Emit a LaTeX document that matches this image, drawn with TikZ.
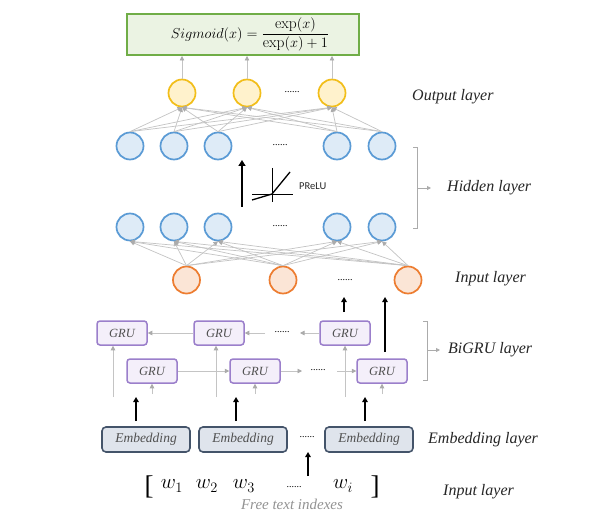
\documentclass[tikz,border=0pt]{standalone}
\usepackage{fontspec}
\usepackage{amsmath}
\newfontfamily\lsr{Liberation Serif}
\newfontfamily\carl{Carlito}
\usetikzlibrary{arrows.meta}
\definecolor{linegray}{HTML}{C4C4C4}
\definecolor{arrgray}{HTML}{ABABAB}
\definecolor{yelB}{HTML}{F2BE1A}
\definecolor{yelF}{HTML}{FFF2CC}
\definecolor{bluB}{HTML}{5B9BD5}
\definecolor{bluF}{HTML}{DEEBF7}
\definecolor{orB}{HTML}{ED7D31}
\definecolor{orF}{HTML}{FBE5D6}
\definecolor{gruB}{HTML}{9B7FCB}
\definecolor{gruF}{HTML}{F4EFFA}
\definecolor{embB}{HTML}{44546A}
\definecolor{embF}{HTML}{DFE4EC}
\definecolor{sigB}{HTML}{70AD47}
\definecolor{sigF}{HTML}{EBF3E3}
\definecolor{labtxt}{HTML}{262626}
\definecolor{boxtxt}{HTML}{505050}
\tikzset{
  neuron/.style={circle, minimum size=27pt, inner sep=0pt, line width=1.7pt},
  outn/.style={neuron, draw=yelB, fill=yelF},
  hidn/.style={neuron, draw=bluB, fill=bluF},
  inpn/.style={neuron, draw=orB, fill=orF},
  grubox/.style={draw=gruB, fill=gruF, line width=1.5pt, rounded corners=3pt,
    minimum width=50pt, minimum height=24pt, inner sep=0pt,
    font=\lsr\itshape\fontsize{12.5}{14}\selectfont, text=boxtxt},
  embbox/.style={draw=embB, fill=embF, line width=1.6pt, rounded corners=4pt,
    minimum width=88pt, minimum height=25pt, inner sep=0pt,
    font=\lsr\itshape\fontsize{13.5}{15}\selectfont, text=boxtxt},
  garrow/.style={draw=linegray, line width=0.7pt, -{Triangle[length=4.5pt,width=4.5pt,color=arrgray]}},
  karrow/.style={draw=black, line width=1.6pt, -{Triangle[length=5pt,width=5.5pt]}},
  dots/.style={inner sep=0pt, font=\lsr\fontsize{10}{12}\selectfont},
  layerlab/.style={anchor=west, inner sep=0pt, font=\lsr\itshape\fontsize{16}{19}\selectfont, text=labtxt},
  brk/.style={draw=arrgray, line width=0.8pt},
  brkarrow/.style={draw=arrgray, line width=0.8pt, -{Triangle[length=4pt,width=4pt]}},
  wordf/.style={inner sep=0pt, font=\fontsize{20}{22}\selectfont},
  brackf/.style={inner sep=0pt, font=\lsr\fontsize{27}{29}\selectfont},
}
\begin{document}
\begin{tikzpicture}[x=1pt,y=-1pt]
\useasboundingbox[fill=white] (0,0) rectangle (602,513);

% Sigmoid box
\node[draw=sigB, fill=sigF, line width=2pt, minimum width=232pt, minimum height=41pt, inner sep=0pt] (sig) at (243,34.5)
  {\hspace*{14pt}\fontsize{15.5}{18}\selectfont $Sigmoid(x)=\dfrac{\exp(x)}{\exp(x)+1}$};

% Output layer
\node[outn] (o1) at (182,93) {};
\node[outn] (o2) at (247,93) {};
\node[outn] (o3) at (332,93) {};
\node[dots] (od) at (292,92) {......};
\foreach \o in {o1,o2,o3} \draw[garrow] (\o.north) -- (\o.north |- sig.south);

% Hidden layers
\foreach \x/\n in {130/1,174/2,218/3,337/4,382/5} {
  \node[hidn] (h\n) at (\x,146) {};
  \node[hidn] (k\n) at (\x,227) {};
}
\node[dots] (hd1) at (280,145) {......};
\node[dots] (hd2) at (280,226) {......};

% Input (orange) layer
\node[inpn] (i1) at (186.5,280) {};
\node[inpn] (i2) at (283,280) {};
\node[inpn] (i3) at (408,280) {};
\node[dots] (idd) at (345,280) {......};

% Full connections
\foreach \h in {h1,h2,h3,h4,h5} \foreach \o in {o1,o2,o3} \draw[garrow] (\h.north) -- (\o.south);
\foreach \i in {i1,i2,i3} \foreach \k in {k1,k2,k3,k4,k5} \draw[garrow] (\i.north) -- (\k.south);

% PReLU
\coordinate (pa1) at (242,207);
\coordinate (pa2) at (242,160);
\draw[draw=black, line width=2.4pt, -{Triangle[length=6pt,width=7pt]}] (pa1) -- (pa2);
\coordinate (vy1) at (272,168); \coordinate (vy2) at (272,202);
\coordinate (hx1) at (252,194); \coordinate (hx2) at (293,194);
\draw[line width=0.6pt] (vy1) -- (vy2);
\draw[line width=0.6pt] (hx1) -- (hx2);
\coordinate (pr1) at (252,200); \coordinate (pr2) at (272,194); \coordinate (pr3) at (290,172);
\draw[line width=1.3pt] (pr1) -- (pr2) -- (pr3);
\node[anchor=west, inner sep=0pt, font=\carl\fontsize{10.5}{12}\selectfont, text=labtxt] (prelu) at (299,186) {PReLU};

% BiGRU
\node[grubox] (g1) at (122,333) {GRU};
\node[grubox] (g2) at (219,333) {GRU};
\node[grubox] (g3) at (345,333) {GRU};
\node[dots] (gd1) at (282,332) {......};
\node[grubox] (b1) at (152,371) {GRU};
\node[grubox] (b2) at (255,371) {GRU};
\node[grubox] (b3) at (382,371) {GRU};
\node[dots] (gd2) at (318,370) {......};

\coordinate (tdr) at (300,333); \coordinate (tdl) at (265,333);
\draw[garrow] (g3.west) -- (tdr);
\draw[garrow] (tdl) -- (g2.east);
\draw[garrow] (g2.west) -- (g1.east);
\coordinate (bdl) at (302,371); \coordinate (bdr) at (337,371);
\draw[garrow] (b1.east) -- (b2.west);
\draw[garrow] (b2.east) -- (bdl);
\draw[garrow] (bdr) -- (b3.west);

\coordinate (v1) at (113,397); \coordinate (v2) at (216,397); \coordinate (v3) at (345,397);
\draw[garrow] (v1) -- (v1 |- g1.south);
\draw[garrow] (v2) -- (v2 |- g2.south);
\draw[garrow] (v3) -- (v3 |- g3.south);
\coordinate (s1) at (152,394); \coordinate (s2) at (255,394); \coordinate (s3) at (382,394);
\draw[garrow] (s1) -- (b1.south);
\draw[garrow] (s2) -- (b2.south);
\draw[garrow] (s3) -- (b3.south);

% Black arrows from GRU to input layer
\coordinate (ka1) at (344,312); \coordinate (ka2) at (344,297);
\draw[karrow] (ka1) -- (ka2);
\coordinate (kb1) at (385,352); \coordinate (kb2) at (385,297);
\draw[karrow] (kb1) -- (kb2);

% Embedding
\node[embbox] (e1) at (146,439.5) {Embedding};
\node[embbox] (e2) at (243,439.5) {Embedding};
\node[embbox] (e3) at (369,439.5) {Embedding};
\node[dots] (ed) at (307,437) {......};
\coordinate (ea1) at (136,421); \coordinate (eb1) at (136,397);
\coordinate (ea2) at (236,421); \coordinate (eb2) at (236,397);
\coordinate (ea3) at (365,421); \coordinate (eb3) at (365,397);
\draw[karrow] (ea1) -- (eb1);
\draw[karrow] (ea2) -- (eb2);
\draw[karrow] (ea3) -- (eb3);
\coordinate (wa) at (308,476); \coordinate (wb) at (308,452);
\draw[karrow] (wa) -- (wb);

% Input words
\node[brackf] (lb) at (149,487) {[};
\node[wordf] (w1) at (172,486) {$w_1$};
\node[wordf] (w2) at (207,486) {$w_2$};
\node[wordf] (w3) at (244,486) {$w_3$};
\node[dots] (wd) at (294,487) {......};
\node[wordf] (wi) at (343,486) {$w_i$};
\node[brackf] (rb) at (375,487) {]};
\node[inner sep=0pt, font=\lsr\itshape\fontsize{15}{17}\selectfont, text=gray!85] (ftx) at (292,504) {Free text indexes};

% Layer labels
\node[layerlab] (lo) at (412,97) {Output layer};
\node[layerlab] (lh) at (447,188) {Hidden layer};
\node[layerlab] (li) at (455,279) {Input layer};
\node[layerlab] (lg) at (448,350) {BiGRU layer};
\node[layerlab] (le) at (428,440) {Embedding layer};
\node[layerlab] (lw) at (443,492) {Input layer};

% Brackets
\coordinate (hb1) at (413,147); \coordinate (hb2) at (417,147);
\coordinate (hb3) at (417,228); \coordinate (hb4) at (413,228);
\draw[brk] (hb1) -- (hb2) -- (hb3) -- (hb4);
\coordinate (hm) at (417,188); \coordinate (hm2) at (431,188);
\draw[brkarrow] (hm) -- (hm2);
\coordinate (gb1) at (423,321); \coordinate (gb2) at (427,321);
\coordinate (gb3) at (427,380); \coordinate (gb4) at (423,380);
\draw[brk] (gb1) -- (gb2) -- (gb3) -- (gb4);
\coordinate (gm) at (427,350); \coordinate (gm2) at (440,350);
\draw[brkarrow] (gm) -- (gm2);
\end{tikzpicture}
\end{document}
